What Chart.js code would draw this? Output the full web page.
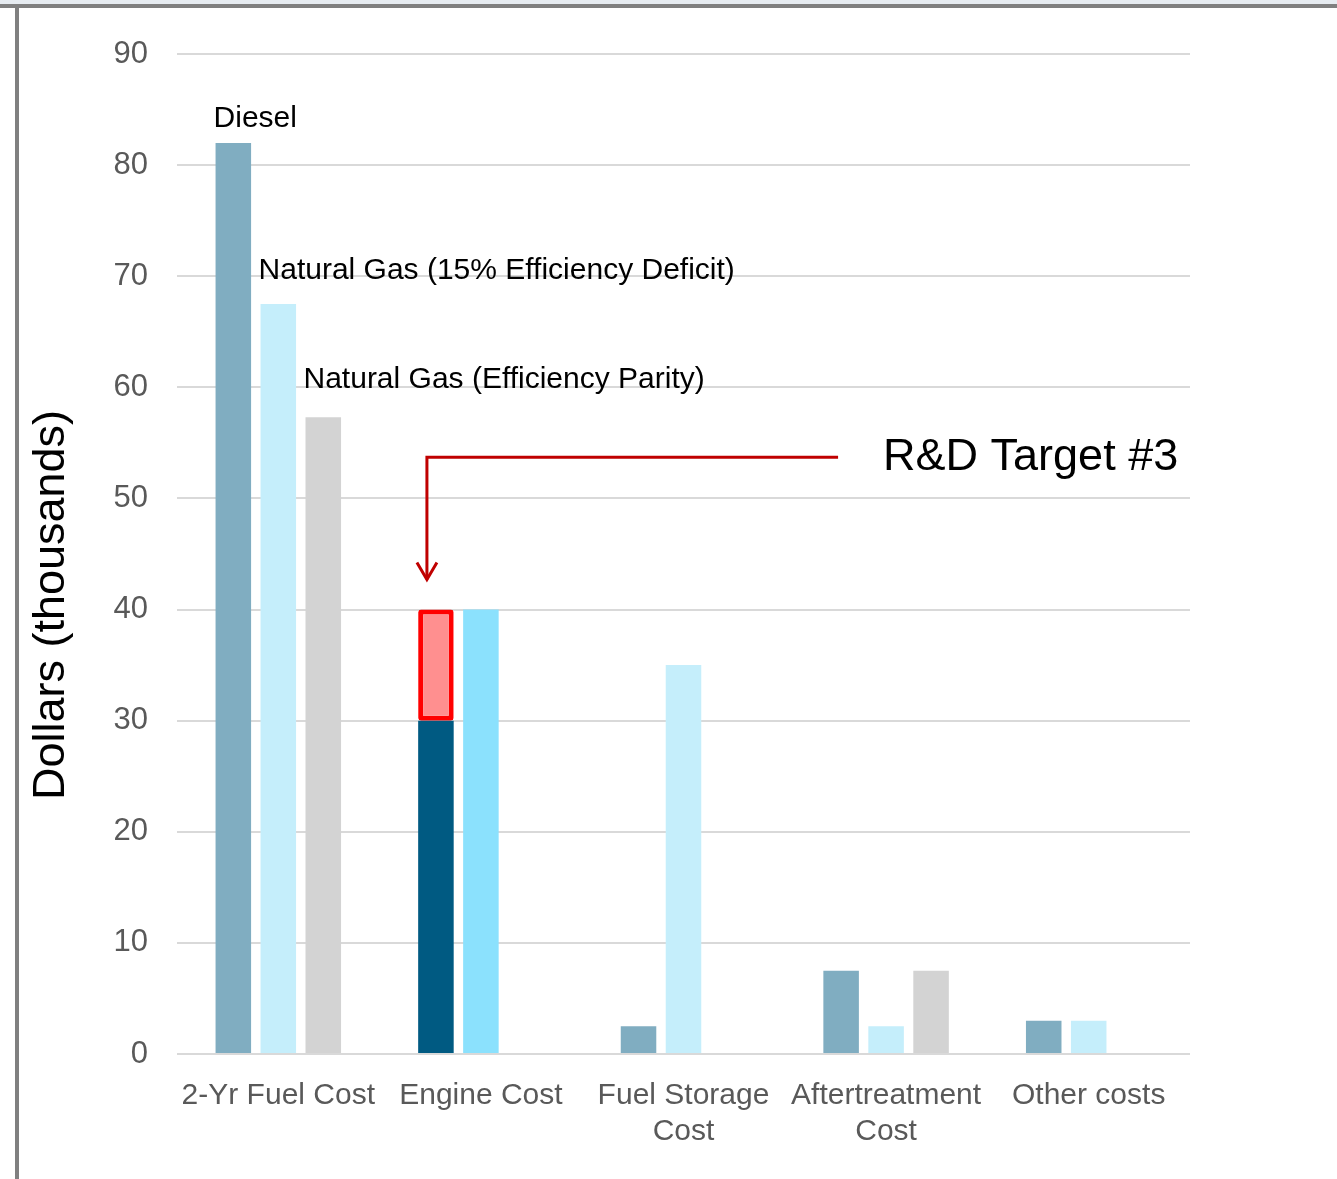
<!DOCTYPE html>
<html>
<head>
<meta charset="utf-8">
<script src="https://cdn.jsdelivr.net/npm/chart.js@4/dist/chart.umd.min.js"></script>
<style>
  html, body { margin: 0; padding: 0; background: #ffffff; }
  #wrap { position: relative; width: 1337px; height: 1179px; }
  canvas { display: block; }
</style>
</head>
<body>
<div id="wrap"><canvas id="cost" width="1337" height="1179"></canvas></div>
<script>
// Cost categories (thousands of dollars)
const categories = ['2-Yr Fuel Cost', 'Engine Cost', ['Fuel Storage', 'Cost'], ['Aftertreatment', 'Cost'], 'Other costs'];

// Series values
const diesel      = [82, 30, 2.5, 7.5, 3];
const ngDeficit   = [67.5, 40, 35, 2.5, 3];
const ngParity    = [57.3, null, null, 7.5, null];
const rdTarget    = [null, 10, null, null, null];

// Axis ticks
const yTicks = [0, 10, 20, 30, 40, 50, 60, 70, 80, 90];

// Series names written next to the first group of bars
const seriesNames = ['Diesel', 'Natural Gas (15% Efficiency Deficit)', 'Natural Gas (Efficiency Parity)'];
const targetLabel = 'R&D Target #3';
const yTitle = 'Dollars (thousands)';

const FONT = '"Liberation Sans", Arial, sans-serif';

const dieselColors = ['#80adc1', '#005a82', '#80adc1', '#80adc1', '#80adc1'];
const ngDefColors  = ['#c5eefb', '#8be1fd', '#c5eefb', '#c5eefb', '#c5eefb'];

// Frame around the chart, series labels, axis title and the R&D arrow
const decorations = {
  id: 'decorations',
  beforeDraw(chart) {
    const ctx = chart.ctx;
    ctx.save();
    ctx.fillStyle = '#ffffff';
    ctx.fillRect(0, 0, chart.width, chart.height);
    ctx.fillStyle = '#e7ecf1';
    ctx.fillRect(0, 0, chart.width, 4);
    ctx.fillStyle = '#808080';
    ctx.fillRect(0, 4, chart.width, 4);
    ctx.fillRect(15, 4, 4, chart.height - 4);
    ctx.restore();
  },
  afterDatasetsDraw(chart) {
    const ctx = chart.ctx;
    const y = chart.scales.y;
    const x = chart.scales.x;
    ctx.save();

    // axis title
    ctx.fillStyle = '#000000';
    ctx.font = '45px ' + FONT;
    ctx.textAlign = 'center';
    ctx.textBaseline = 'middle';
    ctx.translate(52, 605);
    ctx.rotate(-Math.PI / 2);
    ctx.fillText(yTitle, 0, 0);
    ctx.setTransform(1, 0, 0, 1, 0, 0);

    // series names above the first category's bars
    const offsets = [24, 33, 38];
    ctx.font = '30px ' + FONT;
    ctx.textAlign = 'left';
    ctx.textBaseline = 'middle';
    [0, 1, 2].forEach((di, k) => {
      const bar = chart.getDatasetMeta(di).data[0];
      const left = bar.x - bar.width / 2 - 2;
      ctx.fillText(seriesNames[k], left, bar.y - offsets[k]);
    });

    // arrow pointing at the R&D target segment
    const target = chart.getDatasetMeta(3).data[1];
    const ax = target.x - 9;
    const ay = y.getPixelForValue(53.7);
    const tipY = y.getPixelForValue(40) - 30;
    const endX = x.getPixelForValue(2.763);
    ctx.strokeStyle = '#c00000';
    ctx.lineWidth = 3;
    ctx.lineJoin = 'miter';
    ctx.beginPath();
    ctx.moveTo(endX, ay);
    ctx.lineTo(ax, ay);
    ctx.lineTo(ax, tipY);
    ctx.stroke();
    ctx.beginPath();
    ctx.moveTo(ax - 10, tipY - 17);
    ctx.lineTo(ax, tipY);
    ctx.lineTo(ax + 10, tipY - 17);
    ctx.stroke();

    ctx.fillStyle = '#000000';
    ctx.font = '45px ' + FONT;
    ctx.textAlign = 'left';
    ctx.textBaseline = 'middle';
    ctx.fillText(targetLabel, x.getPixelForValue(2.985), ay);
    ctx.restore();
  }
};

new Chart(document.getElementById('cost'), {
  type: 'bar',
  data: {
    labels: categories,
    datasets: [
      { label: seriesNames[0], data: diesel, stack: 'a', backgroundColor: dieselColors, borderWidth: 0 },
      { label: seriesNames[1], data: ngDeficit, stack: 'b', backgroundColor: ngDefColors, borderWidth: 0 },
      { label: seriesNames[2], data: ngParity, stack: 'c', backgroundColor: '#d3d3d3', borderWidth: 0 },
      { label: targetLabel, data: rdTarget, stack: 'a', backgroundColor: '#ff8f8f', borderColor: '#ff0000',
        borderWidth: 5, borderSkipped: false, borderRadius: 3 }
    ]
  },
  options: {
    responsive: false,
    animation: false,
    events: [],
    categoryPercentage: 0.666,
    barPercentage: 0.79,
    layout: { padding: { left: 20, right: 147, top: 54, bottom: 0 } },
    plugins: { legend: { display: false }, tooltip: { enabled: false } },
    scales: {
      x: {
        grid: { display: false },
        border: { display: false },
        ticks: { color: '#595959', font: { family: FONT, size: 30 }, padding: 16, maxRotation: 0, autoSkip: false },
        afterFit(s) { s.height = 125; }
      },
      y: {
        min: 0,
        max: 90,
        afterBuildTicks(s) { s.ticks = yTicks.map(v => ({ value: v })); },
        grid: { color: '#d9d9d9', lineWidth: 2, drawTicks: false },
        border: { display: false },
        ticks: { color: '#595959', font: { family: FONT, size: 31 }, padding: 29 },
        afterFit(s) { s.width = 157; }
      }
    }
  },
  plugins: [decorations]
});
</script>
</body>
</html>
